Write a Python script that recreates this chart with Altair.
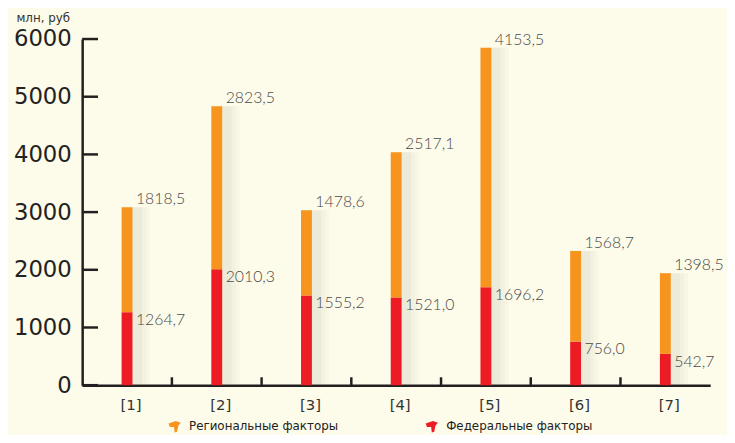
import altair as alt
import pandas as pd

categories = ["[1]", "[2]", "[3]", "[4]", "[5]", "[6]", "[7]"]
regional = [1818.5, 2823.5, 1478.6, 2517.1, 4153.5, 1568.7, 1398.5]
federal = [1264.7, 2010.3, 1555.2, 1521.0, 1696.2, 756.0, 542.7]
series_names = ["Региональные факторы", "Федеральные факторы"]
series_colors = ["#F7941D", "#ED1C24"]
y_ticks = [0, 1000, 2000, 3000, 4000, 5000, 6000]
y_title = "млн, руб"


def fmt(v):
    return f"{v:.1f}".replace(".", ",")


rows = []
for c, r, f in zip(categories, regional, federal):
    rows.append({"cat": c, "series": series_names[1], "value": f, "ord": 0,
                 "label": fmt(f), "top": f})
    rows.append({"cat": c, "series": series_names[0], "value": r, "ord": 1,
                 "label": fmt(r), "top": f + r})
df = pd.DataFrame(rows)
ticks_df = pd.DataFrame({"v": y_ticks})
xt_df = pd.DataFrame({"cat": categories[1:]})

INK = "#231F20"
xscale = alt.Scale(domain=categories, paddingInner=0, paddingOuter=0)
yscale = alt.Scale(domain=[0, 6000], nice=False)

xaxis = alt.Axis(labelAngle=0, ticks=False, domain=True, domainColor=INK,
                 domainWidth=2.5, labelFont="DejaVu Sans", labelFontSize=15,
                 labelColor="#333333", labelPadding=13, labelOffset=4, title=None)
yaxis = alt.Axis(values=y_ticks, format="d", ticks=False, grid=False, domainColor=INK,
                 domainWidth=2.5, labelFont="DejaVu Sans", labelFontSize=23,
                 labelColor="#222222", labelPadding=11,
                 title=y_title, titleAngle=0, titleX=-67, titleY=-22,
                 titleAlign="left", titleBaseline="middle",
                 titleFont="DejaVu Sans", titleFontSize=12,
                 titleFontWeight="normal", titleColor="#333333")

X = alt.X("cat:N", scale=xscale, sort=categories, axis=xaxis)

base = alt.Chart(df)

shadows = []
for w, op in [(12, 0.06), (20, 0.05), (28, 0.035)]:
    shadows.append(
        base.transform_filter(alt.datum.ord == 1).mark_bar(
            width=w, xOffset=9, color="#8a8770", opacity=op
        ).encode(
            x=X,
            y=alt.Y("top:Q", scale=yscale, axis=yaxis),
        )
    )

bars = base.mark_bar(width=11).encode(
    x=X,
    y=alt.Y("value:Q", stack="zero", scale=yscale, axis=yaxis),
    color=alt.Color("series:N",
                    scale=alt.Scale(domain=series_names, range=series_colors),
                    legend=alt.Legend(title=None, orient="none", direction="horizontal",
                                      legendX=87, legendY=385,
                                      symbolType="M-1,-0.5 L0.2,-0.9 L1,-0.6 L0.6,-0.1 L0.4,0.9 L0,1 L-0.1,0.1 L-0.8,0.1 Z",
                                      symbolSize=150, symbolStrokeWidth=0,
                                      labelFont="DejaVu Sans", labelFontSize=12,
                                      labelColor="#222222", labelOffset=8,
                                      columnPadding=88, labelLimit=300)),
    order=alt.Order("ord:Q"),
)

lab_reg = base.transform_filter(alt.datum.ord == 1).mark_text(
    align="left", baseline="middle", dx=9, dy=-8, font="Lato", fontWeight=300,
    fontSize=16, color="#4a4a4a"
).encode(
    x=X,
    y=alt.Y("top:Q", scale=yscale, axis=yaxis),
    text="label:N",
)

lab_fed = base.transform_filter(alt.datum.ord == 0).mark_text(
    align="left", baseline="middle", dx=9, dy=8, font="Lato", fontWeight=300,
    fontSize=16, color="#4a4a4a"
).encode(
    x=X,
    y=alt.Y("top:Q", scale=yscale, axis=yaxis),
    text="label:N",
)

yticks = alt.Chart(ticks_df).mark_rule(color=INK, strokeWidth=2.5).encode(
    y=alt.Y("v:Q", scale=yscale, axis=yaxis),
    x=alt.value(0),
    x2=alt.value(16),
)

xticks = alt.Chart(xt_df).mark_rule(color=INK, strokeWidth=2.5).encode(
    x=alt.X("cat:N", scale=xscale, sort=categories, bandPosition=0, axis=xaxis),
    y=alt.value(342),
    y2=alt.value(350),
)

chart = alt.layer(*shadows, bars, lab_reg, lab_fed, yticks, xticks).properties(
    width=635, height=350,
    autosize=alt.AutoSizeParams(type="none"),
    padding={"left": 75, "top": 29, "right": 17, "bottom": 48},
    background="#FDFBE9",
).configure_view(stroke=None)

chart.save("out.html", embed_options={"renderer": "svg", "actions": False})
